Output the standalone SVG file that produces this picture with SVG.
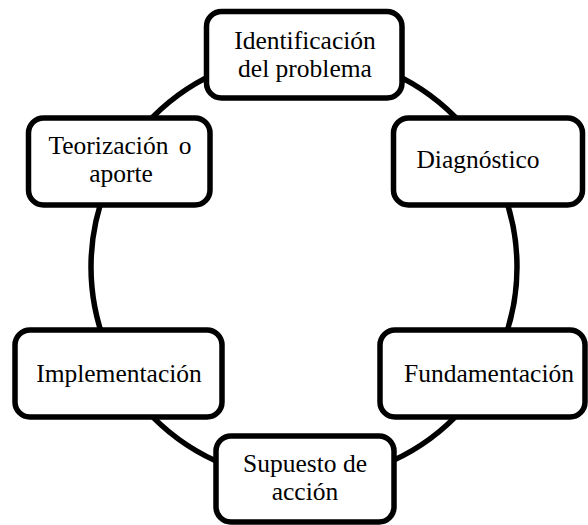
<svg xmlns="http://www.w3.org/2000/svg" width="588" height="525" viewBox="0 0 588 525">
<style>
.box{fill:#fff;stroke:#000;stroke-width:5.5}
</style>
<rect width="588" height="525" fill="#fff"/>
<g id="connectors">
<circle cx="304" cy="267" r="213" fill="none" stroke="#000" stroke-width="5.5"/>
</g>
<g font-family="Liberation Serif, Times New Roman, Times, serif" font-size="25.5" fill="#000" text-anchor="middle">
<g id="n1"><rect class="box" x="206.5" y="11.5" width="195.5" height="86.5" rx="15"/><text x="305" y="49">Identificación</text><text x="305" y="77">del problema</text></g>
<g id="n2"><rect class="box" x="393.5" y="118" width="189" height="87" rx="15"/><text x="478" y="168">Diagnóstico</text></g>
<g id="n3"><rect class="box" x="380" y="330" width="205" height="87" rx="15"/><text x="489" y="382">Fundamentación</text></g>
<g id="n4"><rect class="box" x="216" y="436" width="178" height="86" rx="15"/><text x="305" y="472">Supuesto de</text><text x="305" y="500">acción</text></g>
<g id="n5"><rect class="box" x="15" y="330" width="207" height="87" rx="15"/><text x="119" y="382">Implementación</text></g>
<g id="n6"><rect class="box" x="28.5" y="118" width="181.5" height="87" rx="15"/><text x="120" y="154" word-spacing="4">Teorización o</text><text x="121" y="182">aporte</text></g>
</g>
</svg>
